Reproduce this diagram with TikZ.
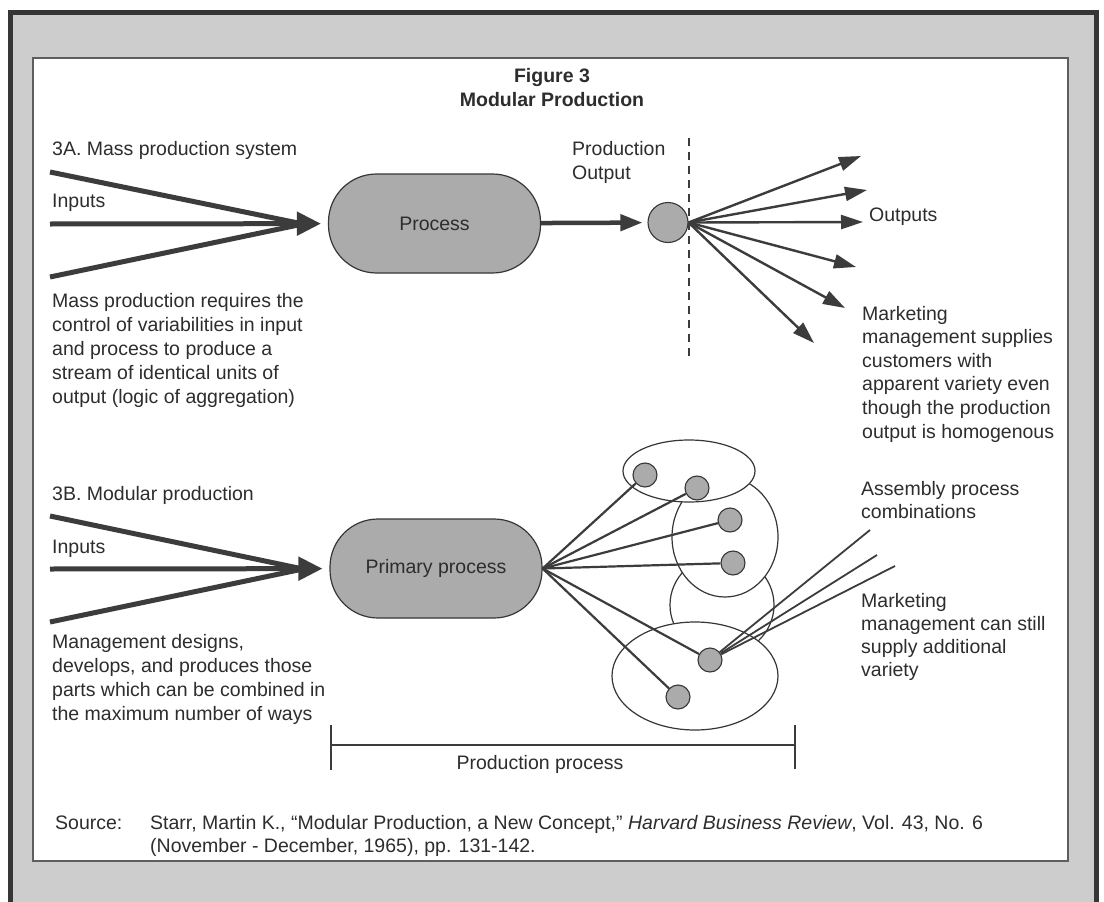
\documentclass[tikz,border=0pt]{standalone}
\usepackage{fontspec}
\setmainfont{Liberation Sans}
\usetikzlibrary{arrows.meta}
\definecolor{ink}{HTML}{2D2D2D}
\definecolor{frame}{HTML}{CDCDCD}
\definecolor{rim}{HTML}{363636}
\definecolor{blob}{HTML}{ABABAB}
\definecolor{wire}{HTML}{3C3C3C}
\newcommand{\linesof}[1]{\begin{tabular}[t]{@{}l@{}}#1\end{tabular}}

\begin{document}
\begin{tikzpicture}[x=1pt,y=-1pt,
  lbl/.style={font=\fontsize{19.5}{24}\selectfont, text=ink, inner sep=0pt, anchor=base west},
  pill/.style={draw=rim, line width=1.2pt, fill=blob, rounded corners=48pt,
    minimum width=212pt, minimum height=99pt, inner sep=0pt,
    font=\fontsize{19.5}{24}\selectfont, text=ink},
  dot/.style={circle, draw=rim, line width=1.1pt, fill=blob, minimum size=24pt, inner sep=0pt},
  feed/.style={draw=wire, line width=5pt},
  fan/.style={draw=wire, line width=2.4pt, -{Triangle[length=22pt,width=14pt]}},
  spoke/.style={draw=wire, line width=2.2pt},
  twig/.style={draw=wire, line width=1.8pt},
  hull/.style={draw=rim, line width=1.2pt, fill=white},
  tick/.style={draw=wire, line width=1.6pt}]

\useasboundingbox (0,0) rectangle (1104,902);
\fill[white] (0,0) rectangle (1104,902);

% grey mount and white panel
\fill[frame] (10,12) rectangle (1096,910);
\draw[rim, line width=5pt] (10.5,915) -- (10.5,12.5) -- (1096.5,12.5) -- (1096.5,915);
\draw[draw=rim!80, line width=1.4pt, fill=white] (33,58) rectangle (1068,861);

% title
\node[lbl, anchor=base, font=\fontsize{19.5}{24}\selectfont\bfseries] (t1) at (552,82) {Figure 3};
\node[lbl, anchor=base, font=\fontsize{19.5}{24}\selectfont\bfseries] (t2) at (552,106) {Modular Production};

% ---------------- 3A: mass production ----------------
\node[lbl] (ha) at (52,155) {3A. Mass production system};
\node[lbl] (ina) at (52,207) {Inputs};
\node[lbl] (da) at (52,307) {\linesof{Mass production requires the\\control of variabilities in input\\and process to produce a\\stream of identical units of\\output (logic of aggregation)}};

\node[pill] (p) at (434.5,223.5) {Process};
\node[dot, minimum size=40pt] (pc) at (668,222.5) {};

\coordinate (ia1) at (50,172);
\coordinate (ia2) at (50,224);
\coordinate (ia3) at (50,277);
\coordinate (hubA) at (303,224);
\draw[feed] (ia1) -- (hubA);
\draw[feed] (ia3) -- (hubA);
\draw[feed, -{Triangle[length=24pt,width=23pt]}, shorten >=7pt] (ia2) -- (p);

\draw[draw=wire, line width=4.5pt, -{Triangle[length=22pt,width=16pt]}, shorten >=5pt] (p) -- (pc);

\coordinate (dtop) at (689,138);
\coordinate (dbot) at (689,358);
\draw[draw=wire, line width=2.2pt, dash pattern=on 8pt off 6pt] (dtop) -- (dbot);

\node[lbl] (po) at (572,155) {\linesof{Production\\Output}};

\coordinate (o1) at (861,156);
\coordinate (o2) at (867,190);
\coordinate (o3) at (863,222);
\coordinate (o4) at (856,267);
\coordinate (o5) at (845,308);
\coordinate (o6) at (814,343);
\foreach \t in {o1,o2,o3,o4,o5,o6} \draw[fan] (pc.east) -- (\t);

\node[lbl] (outs) at (869,221) {Outputs};
\node[lbl, font=\fontsize{19.5}{23.6}\selectfont] (mka) at (862,320) {\linesof{Marketing\\management supplies\\customers with\\apparent variety even\\though the production\\output is homogenous}};

% ---------------- 3B: modular production ----------------
\node[lbl] (hb) at (52,500) {3B. Modular production};
\node[lbl] (inb) at (52,553) {Inputs};
\node[lbl] (db) at (52,648) {\linesof{Management designs,\\develops, and produces those\\parts which can be combined in\\the maximum number of ways}};

\node[pill] (pp) at (436,568.5) {Primary process};

\coordinate (ib1) at (50,516);
\coordinate (ib2) at (50,569);
\coordinate (ib3) at (50,622);
\coordinate (hubB) at (303,569);
\draw[feed] (ib1) -- (hubB);
\draw[feed] (ib3) -- (hubB);
\draw[feed, -{Triangle[length=24pt,width=23pt]}, shorten >=7pt] (ib2) -- (pp);

% module groupings
\draw[hull] (722,605) ellipse [x radius=52, y radius=50];
\draw[hull] (725,537) ellipse [x radius=53, y radius=60];
\draw[hull] (689,471) ellipse [x radius=66, y radius=31];
\draw[hull] (695,676) ellipse [x radius=83, y radius=54];

% parts
\node[dot] (a) at (645,475) {};
\node[dot] (b) at (697,488) {};
\node[dot] (c) at (730,520) {};
\node[dot] (d) at (733,563) {};
\node[dot] (e) at (710,660) {};
\node[dot] (f) at (678,697) {};
\foreach \t in {a,b,c,d,e,f} \draw[spoke] (pp.east) -- (\t);

\coordinate (m1) at (870,530);
\coordinate (m2) at (877,555);
\coordinate (m3) at (895,566);
\foreach \t in {m1,m2,m3} \draw[twig] (e) -- (\t);

\node[lbl, font=\fontsize{19.5}{23}\selectfont] (asm) at (861,495) {\linesof{Assembly process\\combinations}};
\node[lbl, font=\fontsize{19.5}{23}\selectfont] (mkb) at (861,607) {\linesof{Marketing\\management can still\\supply additional\\variety}};

% span of the production process
\coordinate (bl) at (331,745);
\coordinate (br) at (795,745);
\coordinate (blt) at (331,725);
\coordinate (blb) at (331,770);
\coordinate (brt) at (795,725);
\coordinate (brb) at (795,769);
\draw[tick] (bl) -- (br);
\draw[tick] (blt) -- (blb);
\draw[tick] (brt) -- (brb);
\node[lbl, anchor=base] (pr) at (540,769) {Production process};

% source
\node[lbl] (src) at (55,829) {Source:};
\node[lbl, font=\fontsize{19.5}{23}\selectfont] (ref) at (150,829) {\linesof{Starr, Martin K., “Modular Production, a New Concept,” \textit{Harvard Business Review}, Vol. 43, No. 6\\(November - December, 1965), pp. 131-142.}};
\end{tikzpicture}
\end{document}
